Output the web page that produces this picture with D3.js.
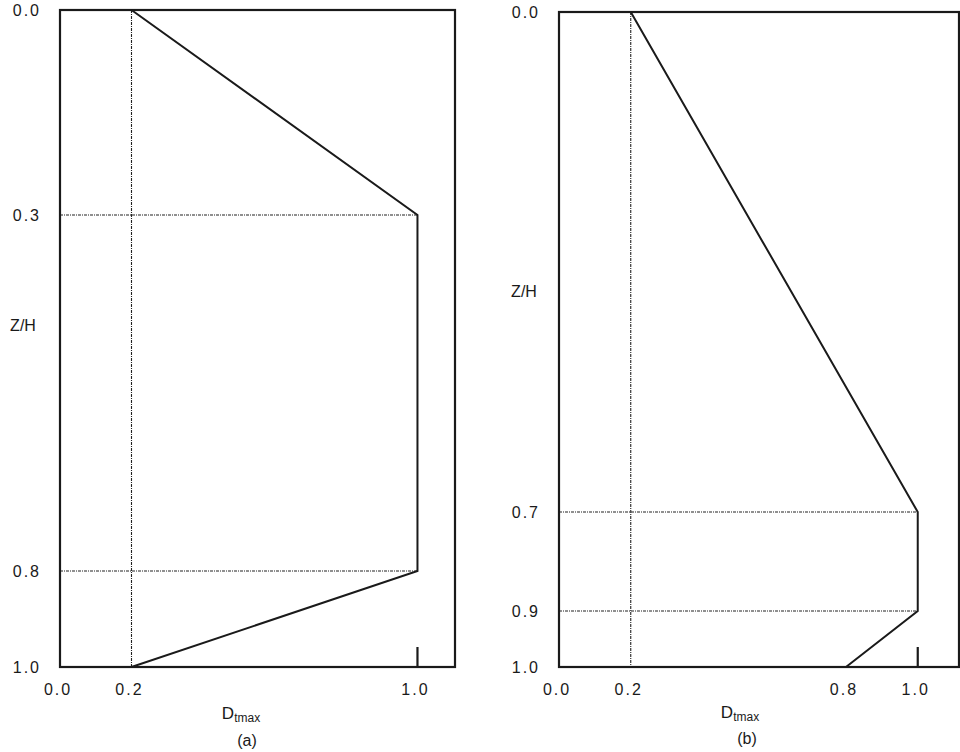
<!DOCTYPE html>
<html>
<head>
<meta charset="utf-8">
<script src="https://cdn.jsdelivr.net/npm/d3@7"></script>
<style>
  html, body { margin: 0; padding: 0; background: #fff; }
  svg { display: block; }
  text { font-family: "Liberation Sans", Arial, sans-serif; fill: #1a1a1a; }
</style>
</head>
<body>
<svg id="chart" width="960" height="752"></svg>
<script>
// ---- Data ----
// Panel (a)
const panelA_xTicks = [0.0, 0.2, 1.0];
const panelA_zTicks = [0.0, 0.3, 0.8, 1.0];
const panelA_profileD = [0.2, 1.0, 1.0, 0.2];
const panelA_profileZ = [0.0, 0.3, 0.8, 1.0];
const panelA_guideD = [0.2];          // vertical guide lines
const panelA_guideZ = [0.3, 0.8];     // horizontal guide lines
const panelA_caption = "(a)";

// Panel (b)
const panelB_xTicks = [0.0, 0.2, 0.8, 1.0];
const panelB_zTicks = [0.0, 0.7, 0.9, 1.0];
const panelB_profileD = [0.2, 1.0, 1.0, 0.8];
const panelB_profileZ = [0.0, 0.7, 0.9, 1.0];
const panelB_guideD = [0.2];
const panelB_guideZ = [0.7, 0.9];
const panelB_caption = "(b)";

const yAxisTitle = "Z/H";
const xAxisTitleMain = "D";
const xAxisTitleSub = "tmax";

// ---- Layout (schematic, non-uniform vertical spacing as in the original) ----
const panels = [
  {
    xTicks: panelA_xTicks, zTicks: panelA_zTicks,
    profD: panelA_profileD, profZ: panelA_profileZ,
    guideD: panelA_guideD, guideZ: panelA_guideZ, caption: panelA_caption,
    x: d3.scaleLinear().domain([0, 1.105]).range([60, 455]),
    y: d3.scaleLinear().domain([0, 0.3, 0.8, 1.0]).range([10, 215, 571, 667]),
    yTitleX: 23, yTitleY: 331, xTitleX: 241, xTitleY: 719, capX: 247, capY: 746
  },
  {
    xTicks: panelB_xTicks, zTicks: panelB_zTicks,
    profD: panelB_profileD, profZ: panelB_profileZ,
    guideD: panelB_guideD, guideZ: panelB_guideZ, caption: panelB_caption,
    x: d3.scaleLinear().domain([0, 1.115]).range([559, 959]),
    y: d3.scaleLinear().domain([0, 0.7, 0.9, 1.0]).range([12, 512, 611, 667]),
    yTitleX: 524, yTitleY: 297, xTitleX: 740, xTitleY: 718, capX: 747, capY: 744
  }
];

const svg = d3.select("#chart");
const fmt = d3.format(".1f");

panels.forEach(p => {
  const g = svg.append("g");
  const [x0, x1] = p.x.range();
  const yTop = p.y(0), yBot = p.y(1);

  // guide lines (dash-dot dotted)
  g.selectAll(".gv").data(p.guideD).join("line")
    .attr("x1", d => p.x(d)).attr("x2", d => p.x(d))
    .attr("y1", yTop).attr("y2", yBot)
    .attr("stroke", "#222").attr("stroke-width", 1.1)
    .attr("stroke-dasharray", "3,1,1,1");
  g.selectAll(".gh").data(p.guideZ).join("line")
    .attr("x1", x0).attr("x2", p.x(1.0))
    .attr("y1", d => p.y(d)).attr("y2", d => p.y(d))
    .attr("stroke", "#222").attr("stroke-width", 1.1)
    .attr("stroke-dasharray", "3,1,1,1");

  // frame
  g.append("rect")
    .attr("x", x0).attr("y", yTop)
    .attr("width", x1 - x0).attr("height", yBot - yTop)
    .attr("fill", "none").attr("stroke", "#1a1a1a").attr("stroke-width", 2.2);

  // tick at D = 1.0 on bottom
  g.append("line")
    .attr("x1", p.x(1.0)).attr("x2", p.x(1.0))
    .attr("y1", yBot).attr("y2", yBot - 20)
    .attr("stroke", "#1a1a1a").attr("stroke-width", 2.2);

  // profile
  const pts = p.profD.map((d, i) => [d, p.profZ[i]]);
  g.append("path")
    .datum(pts)
    .attr("d", d3.line().x(d => p.x(d[0])).y(d => p.y(d[1])))
    .attr("fill", "none").attr("stroke", "#1a1a1a").attr("stroke-width", 2)
    .attr("stroke-linejoin", "miter");

  // y tick labels
  g.selectAll(".yl").data(p.zTicks).join("text")
    .attr("x", x0 - 19).attr("y", d => p.y(d) + 6)
    .attr("text-anchor", "end")
    .attr("font-size", 16).attr("letter-spacing", 2)
    .text(d => fmt(d));

  // x tick labels
  g.selectAll(".xl").data(p.xTicks).join("text")
    .attr("x", d => p.x(d) - 2).attr("y", yBot + 28)
    .attr("text-anchor", "middle")
    .attr("font-size", 16).attr("letter-spacing", 2)
    .text(d => fmt(d));

  // axis titles
  g.append("text")
    .attr("x", p.yTitleX).attr("y", p.yTitleY)
    .attr("text-anchor", "middle").attr("font-size", 16)
    .text(yAxisTitle);

  const xt = g.append("text")
    .attr("x", p.xTitleX).attr("y", p.xTitleY)
    .attr("text-anchor", "middle").attr("font-size", 17);
  xt.append("tspan").text(xAxisTitleMain);
  xt.append("tspan").attr("font-size", 12).attr("dy", 3).text(xAxisTitleSub);

  g.append("text")
    .attr("x", p.capX).attr("y", p.capY)
    .attr("text-anchor", "middle").attr("font-size", 16)
    .text(p.caption);
});
</script>
</body>
</html>
